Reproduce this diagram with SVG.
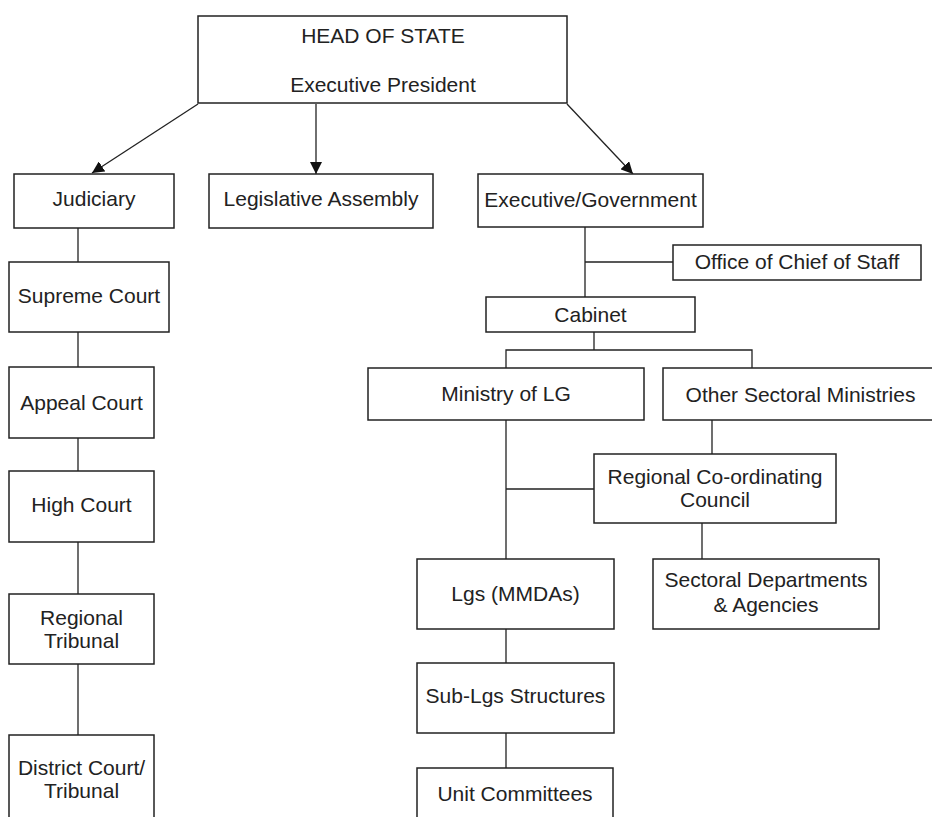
<svg xmlns="http://www.w3.org/2000/svg" width="932" height="817" viewBox="0 0 932 817">
<style>
.box{fill:#fff;stroke:#222;stroke-width:1.5}
.c{fill:none;stroke:#222;stroke-width:1.3}
text{font-family:"Liberation Sans",Arial,sans-serif;font-size:21px;fill:#222;text-anchor:middle}
</style>
<defs>
<marker id="ah" viewBox="0 0 12 12" refX="12" refY="6" markerWidth="12" markerHeight="12" markerUnits="userSpaceOnUse" orient="auto">
<path d="M0,0 L12,6 L0,12 Z" fill="#111"/>
</marker>
</defs>
<rect width="932" height="817" fill="#fff"/>
<g id="connectors">
<line class="c" x1="198" y1="104" x2="92" y2="173" marker-end="url(#ah)"/>
<line class="c" x1="316" y1="104" x2="316" y2="174" marker-end="url(#ah)"/>
<line class="c" x1="567" y1="104" x2="633" y2="174" marker-end="url(#ah)"/>
<path class="c" d="M78,228 V262 M78,332 V367 M78,438 V471 M78,542 V594 M78,664 V735"/>
<path class="c" d="M585,227 V297 M585,262 H673"/>
<path class="c" d="M594,332 V350 M506,368 V350 H752 V368"/>
<path class="c" d="M506,420 V559 M506,489 H594 M712,420 V454 M702,523 V559"/>
<path class="c" d="M506,629 V663 M506,733 V768"/>
</g>
<g id="head"><rect class="box" x="198" y="16" width="369" height="87"/><text x="383" y="43">HEAD OF STATE</text><text x="383" y="92">Executive President</text></g>
<g id="judiciary"><rect class="box" x="14" y="174" width="160" height="54"/><text x="94" y="206">Judiciary</text></g>
<g id="legislative"><rect class="box" x="209" y="174" width="224" height="54"/><text x="321" y="206">Legislative Assembly</text></g>
<g id="executive"><rect class="box" x="478" y="174" width="225" height="53"/><text x="590.5" y="207">Executive/Government</text></g>
<g id="office"><rect class="box" x="673" y="245" width="248" height="35"/><text x="797" y="269">Office of Chief of Staff</text></g>
<g id="cabinet"><rect class="box" x="486" y="297" width="209" height="35"/><text x="590.5" y="322">Cabinet</text></g>
<g id="ministry"><rect class="box" x="368" y="368" width="276" height="52"/><text x="506" y="401">Ministry of LG</text></g>
<g id="other"><rect class="box" x="663" y="368" width="276" height="52"/><text x="800.5" y="402">Other Sectoral Ministries</text></g>
<g id="regional-council"><rect class="box" x="594" y="454" width="242" height="69"/><text x="715" y="484">Regional Co-ordinating</text><text x="715" y="507">Council</text></g>
<g id="sectoral"><rect class="box" x="653" y="559" width="226" height="70"/><text x="766" y="587">Sectoral Departments</text><text x="766" y="612">&amp; Agencies</text></g>
<g id="lgs"><rect class="box" x="417" y="559" width="197" height="70"/><text x="515.5" y="601">Lgs (MMDAs)</text></g>
<g id="sublgs"><rect class="box" x="417" y="663" width="197" height="70"/><text x="515.5" y="703">Sub-Lgs Structures</text></g>
<g id="unit"><rect class="box" x="417" y="768" width="196" height="70"/><text x="515" y="801">Unit Committees</text></g>
<g id="supreme"><rect class="box" x="9" y="262" width="160" height="70"/><text x="89" y="303">Supreme Court</text></g>
<g id="appeal"><rect class="box" x="9" y="367" width="145" height="71"/><text x="81.5" y="410">Appeal Court</text></g>
<g id="high"><rect class="box" x="9" y="471" width="145" height="71"/><text x="81.5" y="512">High Court</text></g>
<g id="regional-tribunal"><rect class="box" x="9" y="594" width="145" height="70"/><text x="81.5" y="625">Regional</text><text x="81.5" y="648">Tribunal</text></g>
<g id="district"><rect class="box" x="9" y="735" width="145" height="100"/><text x="81.5" y="775">District Court/</text><text x="81.5" y="798">Tribunal</text></g>
</svg>
